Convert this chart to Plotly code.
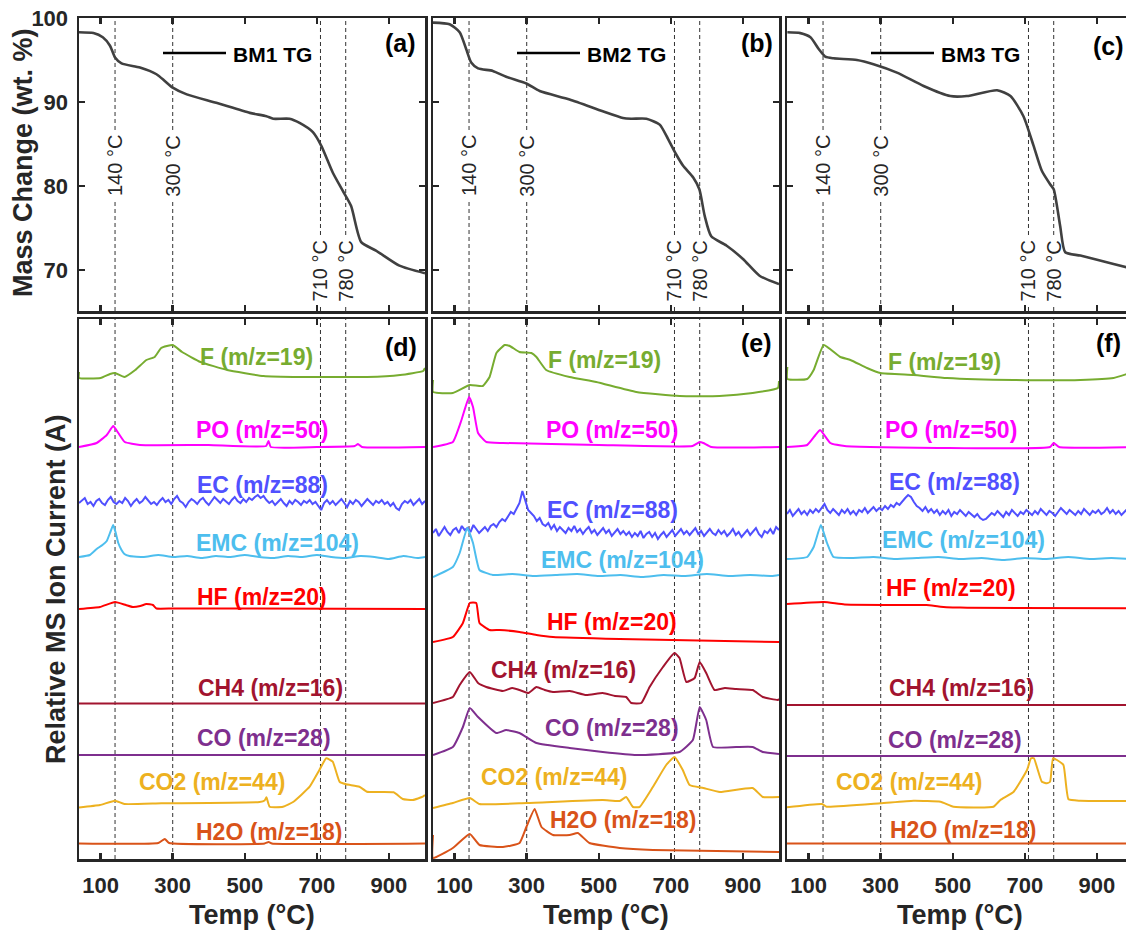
import plotly.graph_objects as go

W, H = 1126, 930
FONT = "Liberation Sans, Arial, sans-serif"
AX = "#262626"

# ------------------------------------------------------------------ data
TEMPS = [140, 300, 710, 780]
TEMP_LABELS = ["140 °C", "300 °C", "710 °C", "780 °C"]
X_TICKS = [100, 300, 500, 700, 900]
Y_TICKS_TG = [70, 80, 90, 100]
PANEL_TAGS = ["(a)", "(b)", "(c)", "(d)", "(e)", "(f)"]
TG_NAMES = ["BM1 TG", "BM2 TG", "BM3 TG"]
SPECIES = ["F (m/z=19)", "PO (m/z=50)", "EC (m/z=88)", "EMC (m/z=104)", "HF (m/z=20)",
           "CH4 (m/z=16)", "CO (m/z=28)", "CO2 (m/z=44)", "H2O (m/z=18)"]
COLORS = ["#77AC30", "#FF00FF", "#5050FF", "#4DBEEE", "#FF0000",
          "#A2142F", "#7E2F8E", "#EDB120", "#D95319"]

# TG curves (temperature °C, mass %)
TG_A_T = [40, 80, 106, 126, 140, 158, 209, 255, 278, 300, 339, 421, 514, 560, 579, 624, 652, 689, 712, 744, 772, 795, 823, 864, 929, 1000]
TG_A_M = [98.3, 98.2, 97.7, 96.7, 95.3, 94.6, 94.1, 93.3, 92.5, 91.7, 90.9, 89.9, 88.7, 88.3, 88.0, 88.0, 87.5, 86.4, 84.8, 81.6, 79.4, 77.6, 73.3, 72.3, 70.5, 69.6]
TG_B_T = [40, 86, 114, 132, 146, 165, 206, 243, 299, 336, 419, 511, 567, 590, 632, 669, 692, 714, 734, 762, 779, 794, 812, 854, 900, 946, 1000]
TG_B_M = [99.45, 99.25, 98.3, 96.3, 94.7, 94.0, 93.7, 93.0, 92.2, 91.3, 90.3, 88.9, 88.1, 88.0, 88.0, 87.3, 85.6, 83.8, 82.4, 81.0, 79.6, 76.4, 74.0, 72.9, 71.3, 69.3, 68.3]
TG_C_T = [41, 77, 105, 128, 146, 169, 234, 280, 345, 419, 493, 539, 623, 660, 696, 724, 747, 770, 780, 798, 812, 854, 946, 1000]
TG_C_M = [98.3, 98.2, 97.7, 96.3, 95.4, 95.2, 95.0, 94.5, 93.5, 91.9, 90.7, 90.7, 91.4, 90.7, 88.3, 84.8, 81.8, 80.2, 79.6, 75.2, 72.1, 71.7, 70.7, 70.1]

# MS curves: stacked relative ion current (arbitrary units, offset per species)
EC_T = list(range(40, 1001, 8))

D_F_T = [40, 40, 100, 126, 140, 166, 196, 227, 250, 268, 300, 326, 377, 451, 552, 654, 746, 839, 931, 995, 1000]
D_F_V = [487, 481, 481, 485, 486, 482, 489, 499, 502, 511, 514, 507, 497, 489, 483, 482, 482, 482, 484, 488, 491]
D_PO_T = [40, 89, 117, 135, 149, 167, 209, 400, 559, 566, 572, 700, 805, 814, 825, 1000]
D_PO_V = [412, 416, 424, 433, 426, 417, 414, 414, 413, 418, 412, 412, 413, 415, 412, 412]
D_EC_V = [356, 359, 361, 355, 357, 353, 358, 360, 356, 354,
          359, 362, 357, 355, 358, 356, 361, 358, 353, 357,
          360, 356, 358, 362, 359, 355, 357, 354, 358, 361,
          357, 359, 355, 360, 363, 358, 356, 352, 357, 360,
          358, 355, 359, 361, 357, 354, 358, 362, 359, 356,
          360, 357, 355, 359, 362, 358, 356, 360, 357, 361,
          359, 362, 364, 361, 363, 359, 356, 358, 354, 357,
          360, 356, 353, 358, 355, 359, 357, 354, 358, 356,
          359, 355, 357, 353, 349, 356, 359, 355, 358, 354,
          357, 360, 356, 352, 358, 355, 359, 357, 353, 356,
          360, 357, 354, 358, 356, 359, 355, 357, 353, 356,
          351, 349, 355, 358, 356, 359, 354, 357, 360, 355,
          358]
D_EMC_T = [40, 70, 89, 105, 117, 128, 135, 142, 149, 158, 166, 180, 220, 260, 300, 340, 380, 420, 460, 500, 540, 580, 620, 660, 700, 740, 780, 820, 860, 900, 940, 980, 1000]
D_EMC_V = [302, 304, 310, 314, 318, 328, 334, 326, 316, 309, 305, 303, 302, 304, 302, 303, 301, 303, 302, 304, 302, 301, 303, 302, 304, 302, 301, 303, 302, 300, 303, 301, 302]
D_HF_T = [40, 98, 140, 170, 189, 210, 227, 245, 255, 300, 500, 1000]
D_HF_V = [250, 252, 257, 254, 252, 253, 255, 254, 250.5, 250.5, 250.5, 250]
D_CH4_T = [40, 1000]
D_CH4_V = [155.5, 155.5]
D_CO_T = [40, 1000]
D_CO_V = [104, 104]
D_CO2_T = [40, 98, 140, 166, 269, 541, 555, 560, 569, 606, 634, 680, 707, 726, 744, 763, 781, 818, 839, 913, 938, 966, 994, 1000]
D_CO2_V = [51.5, 54, 58.3, 55, 55.7, 57, 58.5, 61.7, 52.3, 52.3, 57, 72.3, 89, 100.7, 97.3, 77.3, 74.7, 72.3, 67.3, 66.7, 60, 59, 62.3, 64]
D_H2O_T = [40, 260, 278, 290, 555, 566, 575, 1000]
D_H2O_V = [15.5, 16, 20, 16, 15.5, 17, 15.5, 15.5]

E_F_T = [40, 40, 95, 142, 178, 197, 216, 239, 253, 280, 313, 327, 354, 419, 493, 604, 724, 835, 927, 997, 1000]
E_F_V = [479, 467, 466, 474, 473, 482, 506, 514, 513, 507, 506, 502, 489, 482, 477, 467, 463, 463, 466, 471, 478]
E_PO_T = [40, 95, 119, 140, 151, 165, 188, 234, 500, 760, 780, 790, 812, 1000]
E_PO_V = [412, 417, 439, 462, 452, 426, 417, 416, 414, 413, 417, 416, 412, 412]
E_EC_V = [326, 330, 323, 328, 332, 327, 324, 329, 331, 326,
          333, 329, 331, 327, 334, 330, 326, 329, 332, 328,
          333, 335, 332, 337, 340, 338, 343, 347, 345, 351,
          356, 368, 358, 349, 346, 343, 338, 341, 335, 333,
          336, 330, 334, 328, 332, 329, 326, 331, 328, 333,
          327, 330, 325, 329, 332, 326, 329, 324, 328, 331,
          326, 329, 323, 327, 330, 325, 328, 324, 327, 322,
          326, 323, 328, 321, 325, 327, 322, 326, 320, 324,
          327, 322, 325, 329, 323, 326, 330, 325, 328, 324,
          327, 331, 325, 328, 323, 327, 330, 326, 324, 329,
          325, 328, 323, 326, 330, 324, 327, 322, 326, 329,
          324, 327, 331, 325, 322, 328, 326, 330, 325, 332,
          329]
E_EMC_T = [40, 95, 114, 135, 151, 169, 206, 260, 320, 380, 440, 500, 560, 620, 680, 740, 800, 860, 920, 980, 1000]
E_EMC_V = [282, 292, 306, 331, 316, 289, 284, 285, 283, 284, 285, 283, 284, 282, 284, 283, 285, 283, 284, 283, 284]
E_HF_T = [40, 95, 123, 142, 160, 169, 197, 225, 280, 327, 373, 558, 1000]
E_HF_V = [217, 222, 236, 256, 256, 236, 229, 229, 227, 224, 222, 220, 217]
E_CH4_T = [40, 95, 114, 142, 165, 188, 234, 260, 280, 305, 327, 350, 373, 420, 465, 511, 545, 576, 590, 618, 641, 678, 710, 724, 743, 766, 780, 798, 821, 850, 881, 927, 955, 997, 1000]
E_CH4_V = [156, 162, 174, 187, 176, 172, 168, 171, 169, 166, 172, 169, 167, 168, 164, 166, 163, 162, 156, 156, 172, 192, 206, 201, 177, 181, 197, 186, 169, 171, 170, 169, 162, 159, 160]
E_CO_T = [40, 95, 123, 142, 165, 216, 243, 280, 327, 419, 511, 604, 724, 761, 780, 798, 817, 881, 927, 955, 1000]
E_CO_V = [104, 112, 132, 151, 142, 126, 129, 126, 116, 111, 107, 104, 107, 119, 152, 139, 112, 112, 112, 107, 105]
E_CO2_T = [40, 95, 142, 169, 300, 511, 558, 576, 595, 613, 650, 687, 710, 733, 752, 790, 836, 927, 955, 1000]
E_CO2_V = [51, 56, 61, 55, 56, 59, 58, 62, 52, 52, 72, 94, 102, 89, 74, 71, 67, 71, 62, 62]
E_H2O_T = [40, 40, 95, 142, 169, 234, 280, 299, 322, 341, 373, 419, 442, 474, 558, 650, 1000]
E_H2O_V = [24, 1, 11, 25, 14, 12, 16, 32, 50, 32, 24, 24, 26, 16, 11, 9, 7]

F_F_T = [41, 41, 96, 114, 142, 188, 216, 262, 299, 391, 484, 669, 854, 946, 983, 1000]
F_F_V = [492, 480, 480, 489, 514, 502, 499, 491, 486, 484, 481, 479, 479, 481, 485, 487]
F_PO_T = [40, 96, 119, 132, 160, 200, 770, 780, 795, 1000]
F_PO_V = [412, 414, 424, 429, 416, 413, 412, 416, 412, 412]
F_EC_V = [345, 349, 343, 347, 350, 345, 348, 344, 349, 346,
          350, 347, 351, 355, 349, 346, 350, 347, 344, 349,
          346, 350, 345, 348, 344, 349, 347, 351, 346, 349,
          352, 348, 351, 349, 353, 350, 354, 352, 356, 354,
          358, 361, 364, 362, 357, 353, 351, 348, 352, 347,
          350, 346, 349, 344, 348, 345, 349, 343, 347, 345,
          349, 346, 343, 347, 344, 342, 345, 341, 339, 340,
          343, 346, 344, 348, 345, 342, 347, 344, 349, 346,
          343, 347, 345, 349, 346, 344, 348, 345, 350, 347,
          344, 348, 346, 343, 347, 351, 348, 345, 349, 346,
          344, 348, 345, 350, 347, 344, 348, 346, 349, 345,
          347, 351, 346, 349, 345, 348, 344, 347, 350, 346,
          348]
F_EMC_T = [40, 96, 114, 134, 151, 169, 220, 280, 340, 400, 460, 520, 580, 640, 700, 760, 820, 880, 940, 1000]
F_EMC_V = [300, 302, 312, 334, 316, 302, 301, 302, 300, 301, 302, 300, 301, 299, 301, 300, 302, 300, 301, 300]
F_HF_T = [40, 142, 200, 391, 427, 466, 500, 540, 1000]
F_HF_V = [255, 257, 254.5, 254, 254, 252.3, 251.5, 251.3, 250.7]
F_CH4_T = [40, 1000]
F_CH4_V = [154, 154]
F_CO_T = [40, 1000]
F_CO_V = [103, 103]
F_CO2_T = [40, 137, 150, 299, 391, 466, 502, 613, 632, 669, 706, 717, 725, 747, 761, 770, 778, 789, 807, 821, 854, 1000]
F_CO2_V = [51.7, 55, 52.3, 55.7, 58.3, 57.3, 52.3, 52.3, 59, 67.3, 89, 100.7, 100.7, 77.3, 75.7, 77.3, 100.7, 99, 94, 59.7, 58.3, 58]
F_H2O_T = [40, 1000]
F_H2O_V = [15.5, 15.5]

# species label anchor positions per panel (temperature, stacked value)
D_LAB_T = [533, 547, 548, 591, 548, 570, 553, 409, 567]
D_LAB_V = [502, 429, 374, 316, 262, 171, 121, 77, 27]
E_LAB_T = [517, 536, 538, 566, 538, 403, 538, 376, 566]
E_LAB_V = [499, 429, 349, 299, 237, 189, 131, 82, 39]
F_LAB_T = [478, 495, 506, 531, 495, 525, 505, 378, 527]
F_LAB_V = [497, 429, 377, 319, 271, 171, 119, 77, 29]

# ------------------------------------------------------------------ layout geometry (pixels)
COL_PX = [(79, 425), (433, 779), (787, 1126)]
PX_PER_C = 346 / 960.0
ROW1_PX = (18, 311)
ROW2_PX = (319, 859)


def fx(px):
    return px / W


def fy(py):
    return 1 - py / H


fig = go.Figure()

tg_T = [TG_A_T, TG_B_T, TG_C_T]
tg_M = [TG_A_M, TG_B_M, TG_C_M]
ms_T = [
    [D_F_T, D_PO_T, EC_T, D_EMC_T, D_HF_T, D_CH4_T, D_CO_T, D_CO2_T, D_H2O_T],
    [E_F_T, E_PO_T, EC_T, E_EMC_T, E_HF_T, E_CH4_T, E_CO_T, E_CO2_T, E_H2O_T],
    [F_F_T, F_PO_T, EC_T, F_EMC_T, F_HF_T, F_CH4_T, F_CO_T, F_CO2_T, F_H2O_T],
]
ms_V = [
    [D_F_V, D_PO_V, D_EC_V, D_EMC_V, D_HF_V, D_CH4_V, D_CO_V, D_CO2_V, D_H2O_V],
    [E_F_V, E_PO_V, E_EC_V, E_EMC_V, E_HF_V, E_CH4_V, E_CO_V, E_CO2_V, E_H2O_V],
    [F_F_V, F_PO_V, F_EC_V, F_EMC_V, F_HF_V, F_CH4_V, F_CO_V, F_CO2_V, F_H2O_V],
]
lab_T = [D_LAB_T, E_LAB_T, F_LAB_T]
lab_V = [D_LAB_V, E_LAB_V, F_LAB_V]

shapes = []
annotations = []
layout_axes = {}

for c in range(3):
    x0px, x1px = COL_PX[c]
    xr = [40, 40 + (x1px - x0px) / PX_PER_C]
    xdom = [fx(x0px), min(1.0, fx(x1px))]
    right_cut = (c == 2)
    for r in range(2):
        k = r * 3 + c + 1
        xs = "x" if k == 1 else f"x{k}"
        ys = "y" if k == 1 else f"y{k}"
        xname = "xaxis" if k == 1 else f"xaxis{k}"
        yname = "yaxis" if k == 1 else f"yaxis{k}"
        rpx = ROW1_PX if r == 0 else ROW2_PX
        ydom = [fy(rpx[1]), fy(rpx[0])]
        layout_axes[xname] = dict(
            domain=xdom, range=xr, anchor=ys, showline=True, mirror="ticks",
            linecolor=AX, linewidth=2.5, ticks="inside", ticklen=6, tickwidth=2.5,
            tickcolor=AX, tickvals=X_TICKS, showticklabels=(r == 1),
            tickfont=dict(family=FONT, size=22, color=AX, weight="bold"),
            ticklabelstandoff=5, showgrid=False, zeroline=False, automargin=False,
        )
        if r == 0:
            layout_axes[yname] = dict(
                domain=ydom, range=[65.1, 100], anchor=xs, showline=True,
                mirror=(False if right_cut else "ticks"),
                linecolor=AX, linewidth=2.5, ticks="inside", ticklen=6, tickwidth=2.5,
                tickcolor=AX, tickvals=Y_TICKS_TG, showticklabels=(c == 0),
                tickfont=dict(family=FONT, size=22, color=AX, weight="bold"),
                ticklabelstandoff=4, showgrid=False, zeroline=False, automargin=False,
            )
        else:
            layout_axes[yname] = dict(
                domain=ydom, range=[0, 540], anchor=xs, showline=True,
                mirror=(False if right_cut else True),
                linecolor=AX, linewidth=2.5, ticks="", showticklabels=False,
                showgrid=False, zeroline=False, automargin=False,
            )

        # dashed temperature markers
        for T in TEMPS:
            if r == 0:
                if T < 500:
                    segs = [(ROW1_PX[0], 130), (202, ROW1_PX[1])]
                else:
                    segs = [(ROW1_PX[0], 235), (307, ROW1_PX[1])]
                for (a, b) in segs:
                    shapes.append(dict(type="line", xref=xs, yref="paper", x0=T, x1=T,
                                       y0=fy(b), y1=fy(a), layer="below",
                                       line=dict(color="#333333", width=1, dash="4px,3px")))
            else:
                shapes.append(dict(type="line", xref=xs, yref=f"{ys} domain", x0=T, x1=T,
                                   y0=0, y1=1, layer="below",
                                   line=dict(color="#333333", width=1, dash="4px,3px")))

        if r == 0:
            fig.add_trace(go.Scatter(x=tg_T[c], y=tg_M[c], mode="lines", xaxis=xs, yaxis=ys,
                                     line=dict(color="#404040", width=2.6, shape="spline", smoothing=0.6),
                                     showlegend=False, hoverinfo="skip"))
            for T, lab in zip(TEMPS, TEMP_LABELS):
                annotations.append(dict(x=T, xref=xs, y=fy(166 if T < 500 else 271), yref="paper",
                                        xanchor="center", yanchor="middle",
                                        text=lab, textangle=-90, showarrow=False,
                                        font=dict(family=FONT, size=20, color=AX)))
            # legend-like sample
            lx = x0px + 84
            shapes.append(dict(type="line", xref="paper", yref="paper", x0=fx(lx), x1=fx(lx + 63),
                               y0=fy(53), y1=fy(53), line=dict(color="#000000", width=2.5)))
            annotations.append(dict(x=fx(lx + 68), y=fy(55), xref="paper", yref="paper",
                                    xanchor="left", yanchor="middle", text=TG_NAMES[c], showarrow=False,
                                    font=dict(family=FONT, size=21, color="#000000", weight="bold")))
        else:
            for s in range(9):
                shape = "linear" if s == 2 else "spline"
                fig.add_trace(go.Scatter(x=ms_T[c][s], y=ms_V[c][s], mode="lines", xaxis=xs, yaxis=ys,
                                         line=dict(color=COLORS[s], width=2, shape=shape, smoothing=0.4),
                                         showlegend=False, hoverinfo="skip"))
                annotations.append(dict(x=lab_T[c][s], y=lab_V[c][s], xref=xs, yref=ys,
                                        text=SPECIES[s], showarrow=False, xanchor="center", yanchor="middle",
                                        font=dict(family=FONT, size=23, color=COLORS[s], weight="bold")))

        # panel tag
        tag_px = [(400, 43), (757, 43), (1108, 46), (401, 347), (756, 343), (1108, 343)][k - 1]
        annotations.append(dict(x=fx(tag_px[0]), y=fy(tag_px[1]), xref="paper", yref="paper",
                                text=PANEL_TAGS[k - 1], showarrow=False, xanchor="center", yanchor="middle",
                                font=dict(family=FONT, size=25, color="#000000", weight="bold")))

    # x title
    annotations.append(dict(x=fx((x0px + x0px + 346) / 2), y=fy(915), xref="paper", yref="paper",
                            text="Temp (°C)", showarrow=False, xanchor="center", yanchor="middle",
                            font=dict(family=FONT, size=27, color=AX, weight="bold")))

# y titles
annotations.append(dict(x=fx(23), y=fy(163), xref="paper", yref="paper", text="Mass Change (wt. %)",
                        textangle=-90, showarrow=False, xanchor="center", yanchor="middle",
                        font=dict(family=FONT, size=27, color=AX, weight="bold")))
annotations.append(dict(x=fx(56), y=fy(589), xref="paper", yref="paper", text="Relative MS Ion Current (A)",
                        textangle=-90, showarrow=False, xanchor="center", yanchor="middle",
                        font=dict(family=FONT, size=27, color=AX, weight="bold")))

fig.update_layout(
    width=W, height=H, margin=dict(l=0, r=0, t=0, b=0, autoexpand=False),
    paper_bgcolor="white", plot_bgcolor="white",
    shapes=shapes, annotations=annotations, showlegend=False,
    font=dict(family=FONT), hovermode=False,
    **layout_axes,
)

fig.write_html("out.html",
               config={"displayModeBar": False, "staticPlot": True},
               post_script="document.body.style.margin='0';document.body.style.padding='0';"
                           "document.body.style.overflow='hidden';")
